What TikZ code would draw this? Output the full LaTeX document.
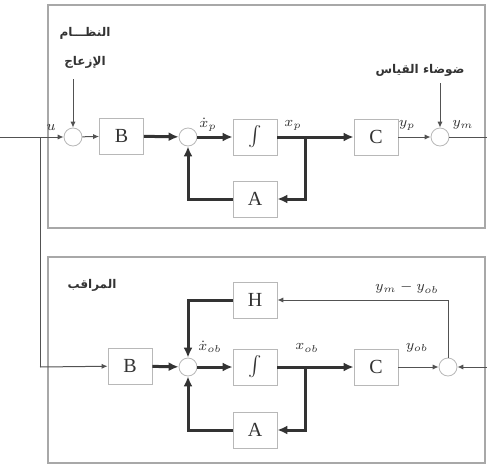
\documentclass[tikz,border=0pt]{standalone}
\usepackage{fontspec}
\setmainfont{Liberation Serif}
\newfontfamily\arabicfont[Script=Arabic]{DejaVu Sans}
\TeXXeTstate=1
\usetikzlibrary{arrows.meta,positioning,calc}
\definecolor{Ink}{HTML}{333333}
\definecolor{Frame}{HTML}{A8A8A8}
\definecolor{Edge}{HTML}{B8B8B8}
\tikzset{
  blockbox/.style={draw=Edge,fill=white,minimum width=22pt,minimum height=18pt,font=\normalsize,text=Ink,inner sep=0pt},
  sumnode/.style={circle,draw=Edge,fill=white,minimum size=9pt,inner sep=0pt},
  sigline/.style={-{Latex[length=3pt,width=2.6pt]},draw=Ink!85,line width=0.5pt},
  stateline/.style={-{Latex[length=5pt,width=4.5pt]},draw=Ink,line width=1.5pt},
  plainline/.style={draw=Ink!85,line width=0.5pt},
  panel/.style={draw=Frame,line width=0.9pt},
  siglabel/.style={font=\scriptsize,text=Ink,inner sep=0pt},
  arlabel/.style={font=\arabicfont\bfseries\fontsize{6}{7}\selectfont,text=Ink,inner sep=0pt}
}

\begin{document}
\begin{tikzpicture}[x=0.5pt,y=-0.5pt]
  \useasboundingbox (0,0) rectangle (487,466);
  % panels
  \draw[panel] (48,5) rectangle (485,228);
  \draw[panel] (48,257) rectangle (485,463);

  % system
  \node[arlabel] (systitle) at (85,33) {\beginR النظـــام\endR};
  \node[arlabel] (distlabel) at (85,62) {\beginR الإزعاج\endR};
  \node[arlabel] (noiselabel) at (420,70) {\beginR ضوضاء القياس\endR};
  \coordinate (uin) at (0,137);
  \coordinate (tap) at (40,137);
  \coordinate (distin) at (73,79);
  \coordinate (noisein) at (440,83);
  \node[sumnode] (s1) at (73,137) {};
  \node[blockbox] (b1) at (121.5,136) {B};
  \node[sumnode] (s2) at (188,137) {};
  \node[blockbox] (i1) at (255,137) {$\int$};
  \coordinate (br1) at (305,137);
  \node[blockbox] (c1) at (376,137) {C};
  \node[sumnode] (s3) at (440,137) {};
  \coordinate (ymout) at (487,137);
  \node[blockbox] (a1) at (255,199) {A};

  \draw[plainline] (uin) -- (tap);
  \draw[sigline] (tap) -- (s1);
  \draw[sigline] (distin) -- (s1);
  \draw[sigline] (s1) -- (b1);
  \draw[stateline] (b1) -- (s2);
  \draw[stateline] (s2) -- (i1);
  \draw[Ink,line width=1.5pt] (i1) -- (br1);
  \draw[stateline] (br1) -- (c1);
  \draw[stateline] (br1) |- (a1);
  \draw[stateline] (a1) -| (s2);
  \draw[sigline] (c1) -- (s3);
  \draw[sigline] (noisein) -- (s3);
  \draw[plainline] (s3) -- (ymout);

  \node[siglabel] (lu) at (51,127) {$u$};
  \node[siglabel] (lxpd) at (208,125) {$\dot{x}_p$};
  \node[siglabel] (lxp) at (293,125) {$x_p$};
  \node[siglabel] (lyp) at (407,125) {$y_p$};
  \node[siglabel] (lym) at (463,125) {$y_m$};

  % observer
  \node[arlabel] (obstitle) at (92,285) {\beginR المراقب\endR};
  \coordinate (tapdown) at (40,367);
  \node[blockbox] (b2) at (130,366) {B};
  \node[sumnode] (s4) at (188,367) {};
  \node[blockbox] (i2) at (255,367) {$\int$};
  \coordinate (br2) at (305,367);
  \node[blockbox] (c2) at (376,367) {C};
  \node[sumnode] (s5) at (448,367) {};
  \coordinate (ymin) at (487,367);
  \node[blockbox] (h2) at (255,300) {H};
  \node[blockbox] (a2) at (255,430) {A};

  \draw[plainline] (tap) -- (tapdown);
  \draw[sigline] (tapdown) -- (b2);
  \draw[stateline] (b2) -- (s4);
  \draw[stateline] (s4) -- (i2);
  \draw[Ink,line width=1.5pt] (i2) -- (br2);
  \draw[stateline] (br2) -- (c2);
  \draw[stateline] (br2) |- (a2);
  \draw[stateline] (a2) -| (s4);
  \draw[stateline] (h2) -| (s4);
  \draw[sigline] (c2) -- (s5);
  \draw[sigline] (ymin) -- (s5);
  \draw[sigline] (s5) |- (h2);

  \node[siglabel] (lxod) at (210,347) {$\dot{x}_{ob}$};
  \node[siglabel] (lxo) at (307,348) {$x_{ob}$};
  \node[siglabel] (lyo) at (417,348) {$y_{ob}$};
  \node[siglabel] (lerr) at (407,288) {$y_m - y_{ob}$};
\end{tikzpicture}
\end{document}
